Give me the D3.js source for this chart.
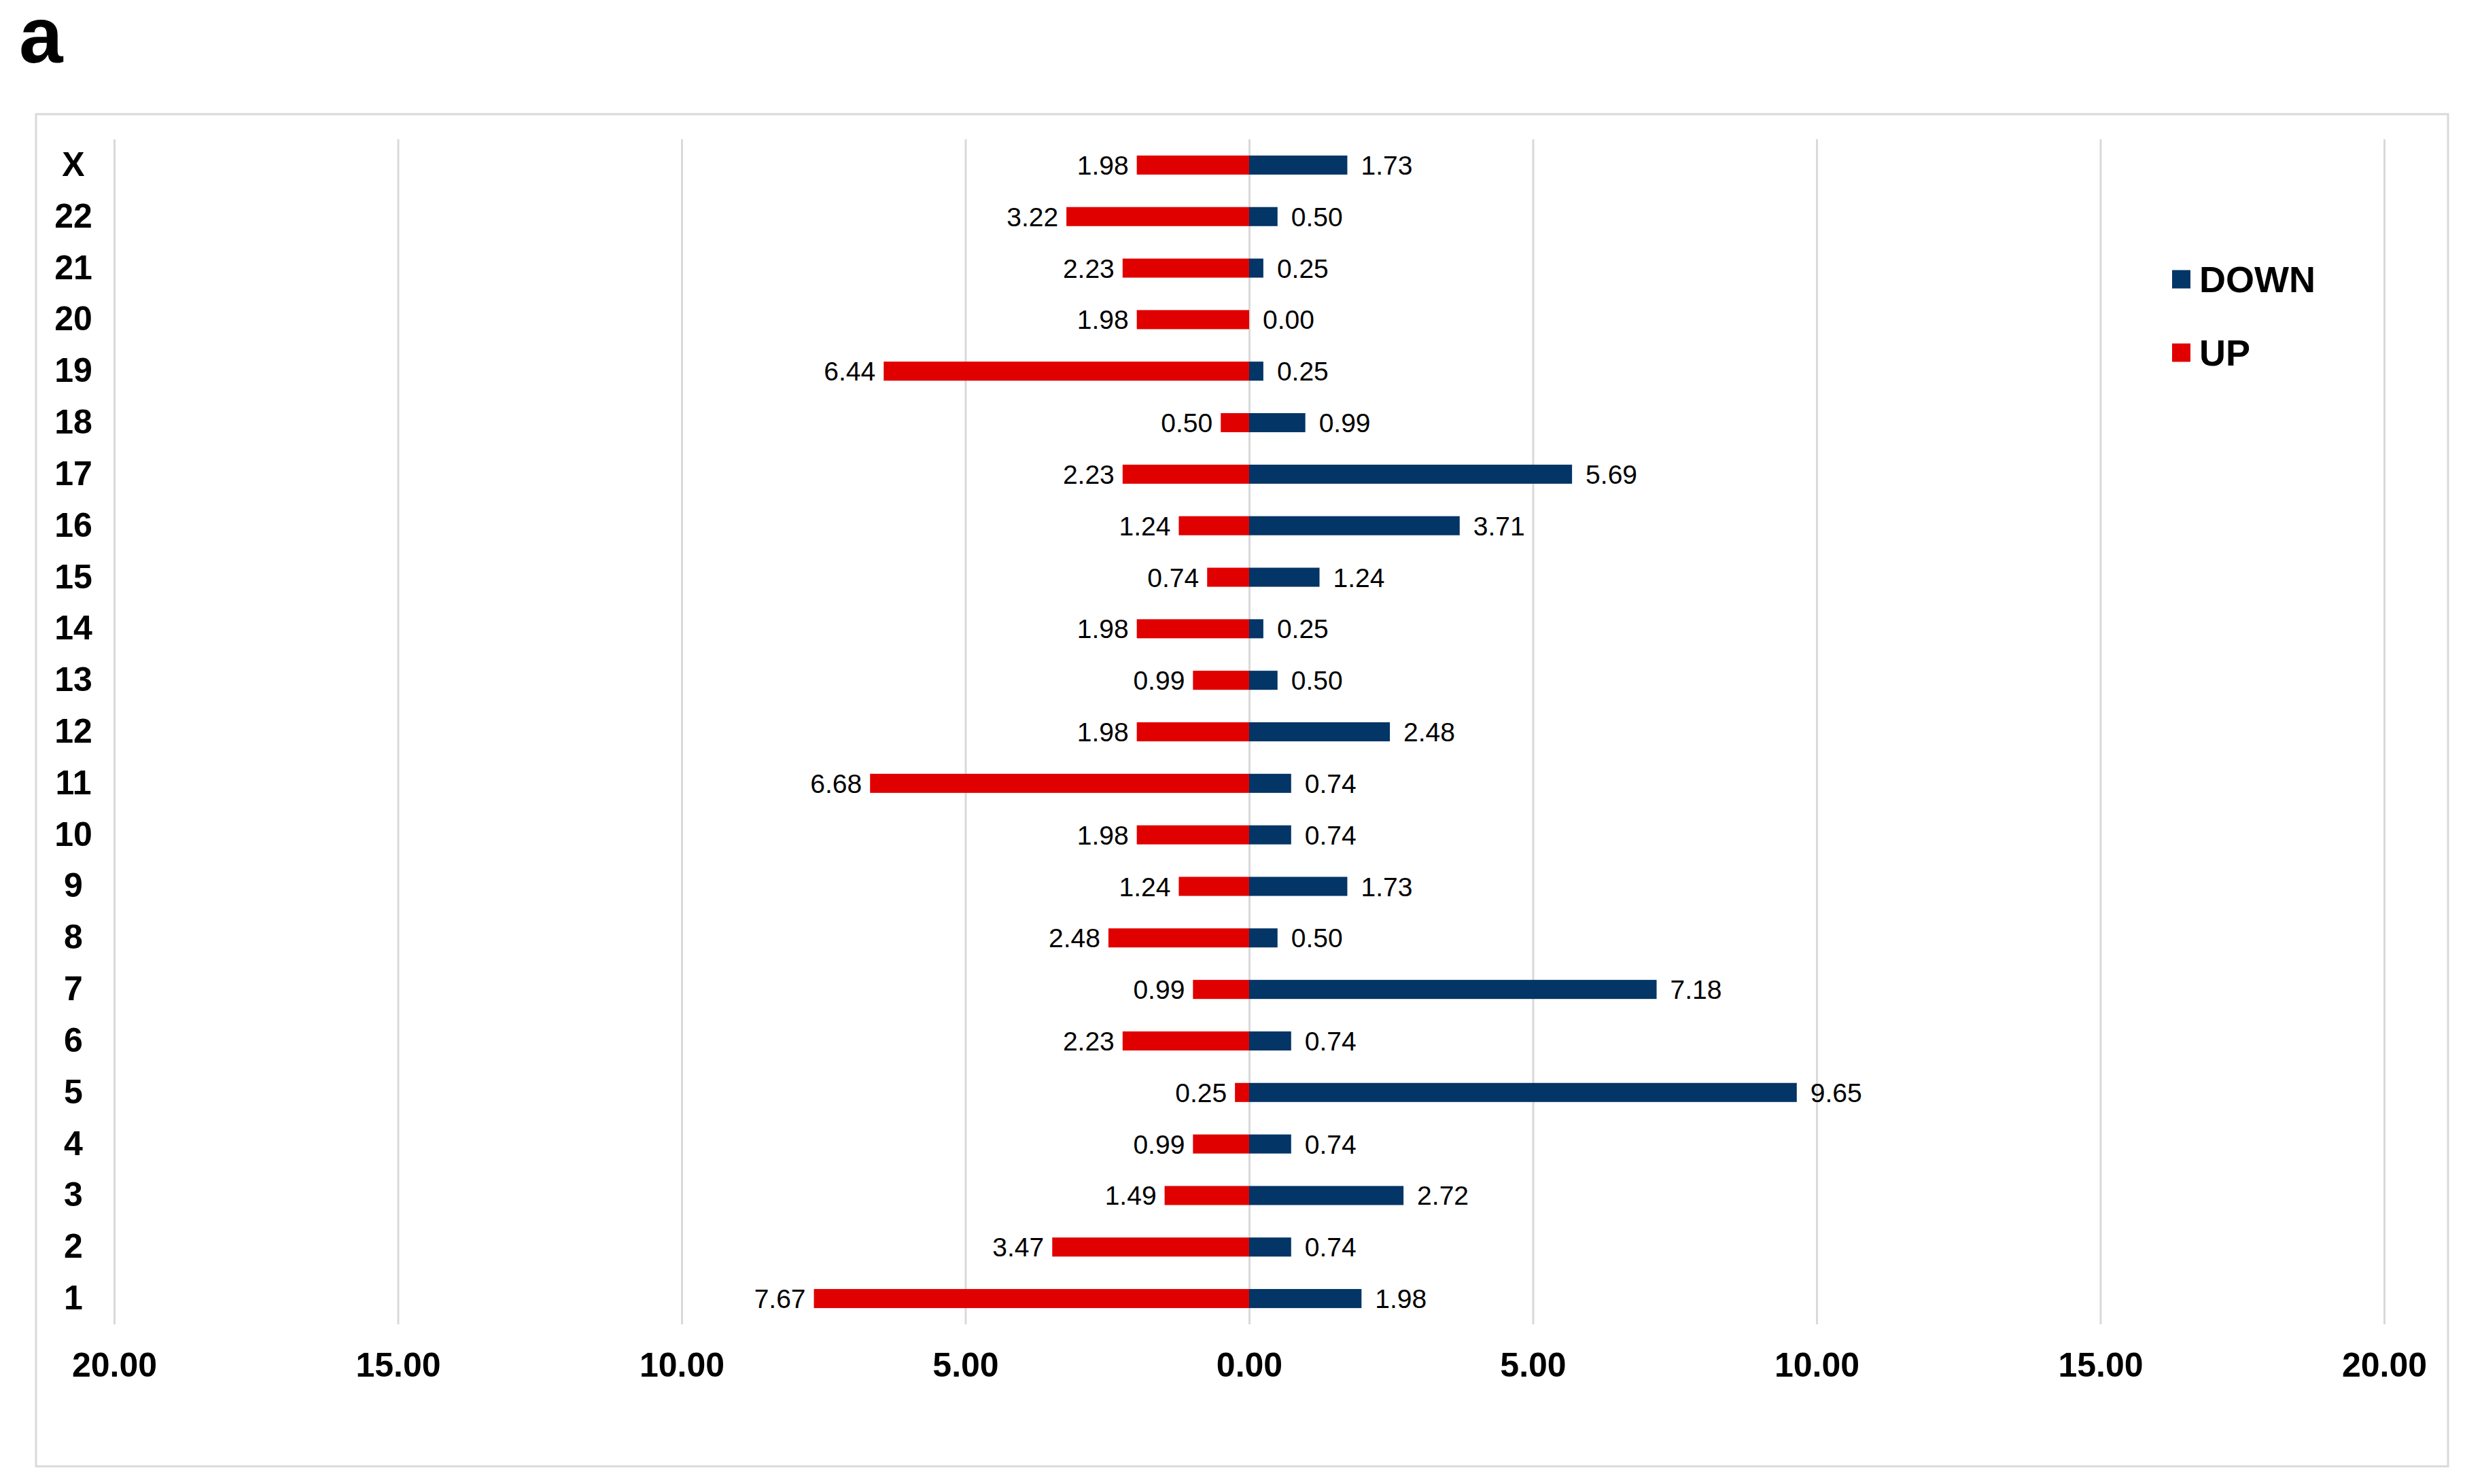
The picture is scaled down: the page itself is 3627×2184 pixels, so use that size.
<!DOCTYPE html>
<html>
<head>
<meta charset="utf-8">
<script src="https://cdnjs.cloudflare.com/ajax/libs/d3/7.8.5/d3.min.js"></script>
<style>
  body { margin: 0; background: #fff; }
  text { font-family: Arial, "Liberation Sans", sans-serif; }
</style>
</head>
<body>
<script>
// categories top to bottom
var categories = ['X', '22', '21', '20', '19', '18', '17', '16', '15', '14', '13', '12',
                  '11', '10', '9', '8', '7', '6', '5', '4', '3', '2', '1'];
// UP (left, red) per category, same order
var up = [1.98, 3.22, 2.23, 1.98, 6.44, 0.50, 2.23, 1.24, 0.74, 1.98, 0.99, 1.98,
          6.68, 1.98, 1.24, 2.48, 0.99, 2.23, 0.25, 0.99, 1.49, 3.47, 7.67];
// DOWN (right, navy)
var down = [1.73, 0.50, 0.25, 0.00, 0.25, 0.99, 5.69, 3.71, 1.24, 0.25, 0.50, 2.48,
            0.74, 0.74, 1.73, 0.50, 7.18, 0.74, 9.65, 0.74, 2.72, 0.74, 1.98];
var xTicks = [-20, -15, -10, -5, 0, 5, 10, 15, 20];
var seriesNames = ['DOWN', 'UP'];

var colors = { UP: '#e00000', DOWN: '#033566' };

var screen = { width: 3627, height: 2184 };
var plot = { left: 168, right: 3508, top: 205, bottom: 1949 };

var svg = d3.select('body').append('svg')
            .attr('width', screen.width)
            .attr('height', screen.height);

// panel letter
svg.append('text')
   .attr('x', 28)
   .attr('y', 92)
   .attr('font-size', 116)
   .attr('font-weight', 'bold')
   .text('a');

// outer frame
svg.append('rect')
   .attr('x', 53).attr('y', 168)
   .attr('width', 3602 - 53).attr('height', 2158 - 168)
   .attr('fill', 'none')
   .attr('stroke', '#d9d9d9')
   .attr('stroke-width', 3);

var xScale = d3.scaleLinear()
               .domain([-20, 20])
               .range([plot.left, plot.right]);
var yScale = d3.scaleBand()
               .domain(categories)
               .range([plot.top, plot.bottom])
               .paddingInner(0.63)
               .paddingOuter(0.315);

// gridlines + x labels
var xAxis = d3.axisBottom(xScale)
              .tickValues(xTicks)
              .tickSize(-(plot.bottom - plot.top))
              .tickPadding(41)
              .tickFormat(function(d){ return Math.abs(d).toFixed(2); });
var gx = svg.append('g')
            .attr('transform', 'translate(0,' + plot.bottom + ')')
            .call(xAxis);
gx.select('.domain').remove();
gx.selectAll('line').attr('stroke', '#d9d9d9').attr('stroke-width', 3);
gx.selectAll('text')
  .attr('font-size', 50)
  .attr('font-weight', 'bold')
  .attr('fill', '#000')
  .style('font-family', 'Arial, "Liberation Sans", sans-serif');

// category labels
var yAxis = d3.axisLeft(yScale).tickSize(0).tickPadding(0);
var gy = svg.append('g')
            .attr('transform', 'translate(' + plot.left + ',0)')
            .call(yAxis);
gy.select('.domain').remove();
gy.selectAll('text')
  .attr('x', -60)
  .attr('text-anchor', 'middle')
  .attr('font-size', 50)
  .attr('font-weight', 'bold')
  .attr('fill', '#000')
  .style('font-family', 'Arial, "Liberation Sans", sans-serif');

var rows = categories.map(function(c, i){
  return { cat: c, up: up[i], down: down[i] };
});

var bars = svg.append('g');
bars.selectAll('rect.up')
    .data(rows)
    .enter().append('rect')
    .classed('up', true)
    .attr('x', function(d){ return xScale(-d.up); })
    .attr('y', function(d){ return yScale(d.cat); })
    .attr('width', function(d){ return xScale(0) - xScale(-d.up); })
    .attr('height', yScale.bandwidth())
    .attr('fill', colors.UP);

bars.selectAll('rect.down')
    .data(rows)
    .enter().append('rect')
    .classed('down', true)
    .attr('x', xScale(0))
    .attr('y', function(d){ return yScale(d.cat); })
    .attr('width', function(d){ return xScale(d.down) - xScale(0); })
    .attr('height', yScale.bandwidth())
    .attr('fill', colors.DOWN);

// value labels
var mid = yScale.bandwidth() / 2;
bars.selectAll('text.up')
    .data(rows)
    .enter().append('text')
    .classed('up', true)
    .attr('x', function(d){ return xScale(-d.up) - 12; })
    .attr('y', function(d){ return yScale(d.cat) + mid; })
    .attr('dy', '0.36em')
    .attr('text-anchor', 'end')
    .attr('font-size', 39)
    .text(function(d){ return d.up.toFixed(2); });

bars.selectAll('text.down')
    .data(rows)
    .enter().append('text')
    .classed('down', true)
    .attr('x', function(d){ return xScale(d.down) + 20; })
    .attr('y', function(d){ return yScale(d.cat) + mid; })
    .attr('dy', '0.36em')
    .attr('text-anchor', 'start')
    .attr('font-size', 39)
    .text(function(d){ return d.down.toFixed(2); });

// legend
var legend = svg.append('g').attr('transform', 'translate(3196,411)');
legend.selectAll('g')
      .data(seriesNames)
      .enter().append('g')
      .attr('transform', function(d, i){ return 'translate(0,' + (i * 108) + ')'; })
      .each(function(d){
        var g = d3.select(this);
        g.append('rect')
         .attr('x', 0).attr('y', -13.5)
         .attr('width', 27).attr('height', 27)
         .attr('fill', colors[d]);
        g.append('text')
         .attr('x', 40)
         .attr('y', 0)
         .attr('dy', '0.36em')
         .attr('font-size', 54)
         .attr('font-weight', 'bold')
         .text(d);
      });
</script>
</body>
</html>
